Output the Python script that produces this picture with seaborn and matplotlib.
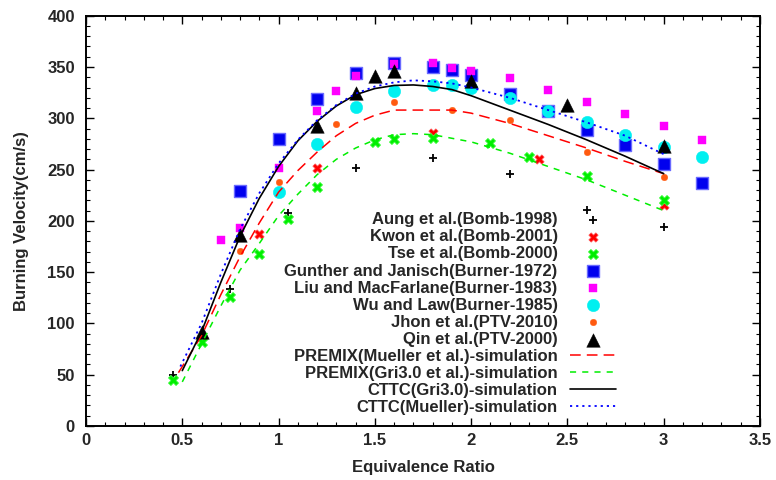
import numpy as np
import pandas as pd
import seaborn as sns
import matplotlib
matplotlib.use("Agg")
import matplotlib.pyplot as plt
from matplotlib.ticker import MultipleLocator

# ---------------- data ----------------
aung_x = [0.45, 0.75, 1.05, 1.4, 1.8, 2.2, 2.6, 3.0]
aung_y = [50, 134, 208, 252, 261, 246, 211, 194]

kwon_x = [0.9, 1.2, 1.8, 2.35, 3.0]
kwon_y = [187, 252, 286, 260, 215]

tse_x = [0.45, 0.6, 0.75, 0.9, 1.05, 1.2, 1.5, 1.6, 1.8, 2.1, 2.3, 2.6, 3.0]
tse_y = [45, 82, 126, 168, 202, 233, 277, 280, 281, 276, 262, 244, 220]

gun_x = [0.8, 1.0, 1.2, 1.4, 1.6, 1.8, 1.9, 2.0, 2.2, 2.4, 2.6, 2.8, 3.0, 3.2]
gun_y = [229, 280, 319, 344, 354, 350, 347, 342, 324, 307, 289, 274, 255, 237]

liu_x = [0.7, 0.8, 1.0, 1.2, 1.3, 1.4, 1.6, 1.8, 1.9, 2.0, 2.2, 2.4, 2.6, 2.8, 3.0, 3.2]
liu_y = [181, 193, 252, 307, 327, 341, 353, 354, 349, 346, 339, 328, 316, 304, 292, 279]

wu_x = [1.0, 1.2, 1.4, 1.6, 1.8, 1.9, 2.0, 2.2, 2.4, 2.6, 2.8, 3.0, 3.2]
wu_y = [228, 275, 311, 327, 332, 332, 330, 320, 307, 296, 284, 272, 262]

jhon_x = [0.8, 1.0, 1.3, 1.6, 1.9, 2.2, 2.6, 3.0]
jhon_y = [171, 238, 294, 316, 308, 298, 267, 243]

qin_x = [0.6, 0.8, 1.2, 1.4, 1.5, 1.6, 2.0, 2.5, 3.0]
qin_y = [92, 186, 292, 325, 341, 346, 336, 313, 273]

pm_x = [0.48, 0.6, 0.7, 0.8, 0.9, 1.0, 1.1, 1.2, 1.3, 1.4, 1.5, 1.6, 1.9, 2.0, 2.2, 2.4, 2.6, 2.8, 3.0]
pm_y = [52, 88, 128, 165, 198, 228, 249, 267, 283, 295, 303, 308, 308, 305, 295, 283, 271, 258, 246]

pg_x = [0.5, 0.6, 0.7, 0.8, 0.9, 1.0, 1.1, 1.2, 1.3, 1.4, 1.5, 1.6, 1.7, 1.8, 2.0, 2.2, 2.4, 2.6, 2.8, 3.0]
pg_y = [43, 80, 117, 152, 178, 205, 226, 245, 260, 271, 279, 284, 285, 284, 277, 266, 253, 240, 225, 210]

cg_x = [0.5, 0.6, 0.7, 0.8, 0.9, 1.0, 1.1, 1.2, 1.3, 1.4, 1.5, 1.6, 1.7, 1.8, 1.9, 2.0, 2.2, 2.4, 2.6, 2.8, 3.0]
cg_y = [54, 92, 140, 185, 222, 253, 278, 297, 312, 323, 329, 332, 332.5, 331, 328, 322, 308, 294, 279, 263, 246]

cm_x = [0.49, 0.6, 0.7, 0.8, 0.9, 1.0, 1.1, 1.2, 1.3, 1.4, 1.5, 1.6, 1.7, 1.8, 1.9, 2.0, 2.2, 2.4, 2.6, 2.8, 3.0]
cm_y = [58, 100, 148, 192, 227, 256, 279, 298, 313, 324, 331, 335, 337, 336, 334, 330, 320, 308, 296, 283, 265]

labels = [
    "Aung et al.(Bomb-1998)",
    "Kwon et al.(Bomb-2001)",
    "Tse et al.(Bomb-2000)",
    "Gunther and Janisch(Burner-1972)",
    "Liu and MacFarlane(Burner-1983)",
    "Wu and Law(Burner-1985)",
    "Jhon et al.(PTV-2010)",
    "Qin et al.(PTV-2000)",
    "PREMIX(Mueller et al.)-simulation",
    "PREMIX(Gri3.0 et al.)-simulation",
    "CTTC(Gri3.0)-simulation",
    "CTTC(Mueller)-simulation",
]

# ---------------- style ----------------
sns.set_style("ticks")
plt.rcParams['font.family'] = ['Liberation Sans', 'DejaVu Sans']
plt.rcParams['font.weight'] = 'bold'
plt.rcParams['axes.labelweight'] = 'bold'

fig = plt.figure(figsize=(7.76, 4.8), dpi=100)
ax = fig.add_axes([86/776, 1-426/480, (760-86)/776, (426-15.7)/480])

FS = 12

sns.scatterplot(x=aung_x, y=aung_y, ax=ax, marker="+", s=30, color="black", linewidth=1.3, label=labels[0], zorder=3)
sns.scatterplot(x=kwon_x, y=kwon_y, ax=ax, marker="X", s=45, color="#ff0000", edgecolor="#ff5050", linewidth=0.5, label=labels[1], zorder=3)
sns.scatterplot(x=tse_x, y=tse_y, ax=ax, marker="X", s=55, color="#00ee00", edgecolor="#50ff50", linewidth=0.5, label=labels[2], zorder=3)
sns.scatterplot(x=gun_x, y=gun_y, ax=ax, marker="s", s=70, color="#0000ee", edgecolor="#6a6aff", linewidth=1.0, label=labels[3], zorder=3)
sns.scatterplot(x=liu_x, y=liu_y, ax=ax, marker="s", s=28, color="#ff00ff", edgecolor="#ff00ff", linewidth=0.3, label=labels[4], zorder=3)
sns.scatterplot(x=wu_x, y=wu_y, ax=ax, marker="o", s=80, color="#00f0f0", edgecolor="#00f0f0", linewidth=0.3, label=labels[5], zorder=3)
sns.scatterplot(x=jhon_x, y=jhon_y, ax=ax, marker="o", s=22, color="#ff5a10", edgecolor="#ff5a10", linewidth=0.3, label=labels[6], zorder=3)
sns.scatterplot(x=qin_x, y=qin_y, ax=ax, marker="^", s=95, color="black", edgecolor="black", linewidth=0.3, label=labels[7], zorder=3)

sns.lineplot(x=pm_x, y=pm_y, ax=ax, color="#ff0000", linewidth=1.1, linestyle=(0, (7, 4)), label=labels[8], errorbar=None, zorder=4)
sns.lineplot(x=pg_x, y=pg_y, ax=ax, color="#00ee00", linewidth=1.1, linestyle=(0, (4, 4)), label=labels[9], errorbar=None, zorder=4)
sns.lineplot(x=cg_x, y=cg_y, ax=ax, color="black", linewidth=1.2, linestyle="-", label=labels[10], errorbar=None, zorder=4)
sns.lineplot(x=cm_x, y=cm_y, ax=ax, color="#0000ff", linewidth=1.3, linestyle=(0, (1.2, 2.2)), label=labels[11], errorbar=None, zorder=4)

ax.set_xlim(0, 3.5)
ax.set_ylim(0, 400)
ax.xaxis.set_major_locator(MultipleLocator(0.5))
ax.xaxis.set_minor_locator(MultipleLocator(0.1))
ax.yaxis.set_major_locator(MultipleLocator(50))
ax.yaxis.set_minor_locator(MultipleLocator(10))
ax.set_xticks(np.arange(0, 3.51, 0.5))
ax.set_xticklabels(["0", "0.5", "1", "1.5", "2", "2.5", "3", "3.5"])

for s in ax.spines.values():
    s.set_visible(True)
    s.set_linewidth(1.4)
    s.set_color("black")

ax.tick_params(which="major", direction="in", length=6, width=1.0, top=True, right=True,
               labelsize=FS, color="black")
ax.tick_params(which="minor", direction="in", length=3, width=0.8, top=True, right=True, color="black")
ax.tick_params(axis="y", which="major", pad=8)
ax.tick_params(axis="x", which="major", pad=5)
for t in ax.get_xticklabels() + ax.get_yticklabels():
    t.set_fontweight("bold")

ax.set_xlabel("Equivalence Ratio", fontsize=FS, fontweight="bold", labelpad=9)
ax.set_ylabel("Burning Velocity(cm/s)", fontsize=FS, fontweight="bold", labelpad=13)

handles, labs = ax.get_legend_handles_labels()
leg = ax.legend(handles, labs, loc="upper right", bbox_to_anchor=((624-86)/674, (426-204)/410.3),
                markerfirst=False, frameon=False, borderpad=0, handlelength=2.76,
                handletextpad=0.72, labelspacing=0.125,
                prop={"family": ["Liberation Sans"], "weight": "bold", "size": FS})

fig.savefig("out.png", dpi=100)
